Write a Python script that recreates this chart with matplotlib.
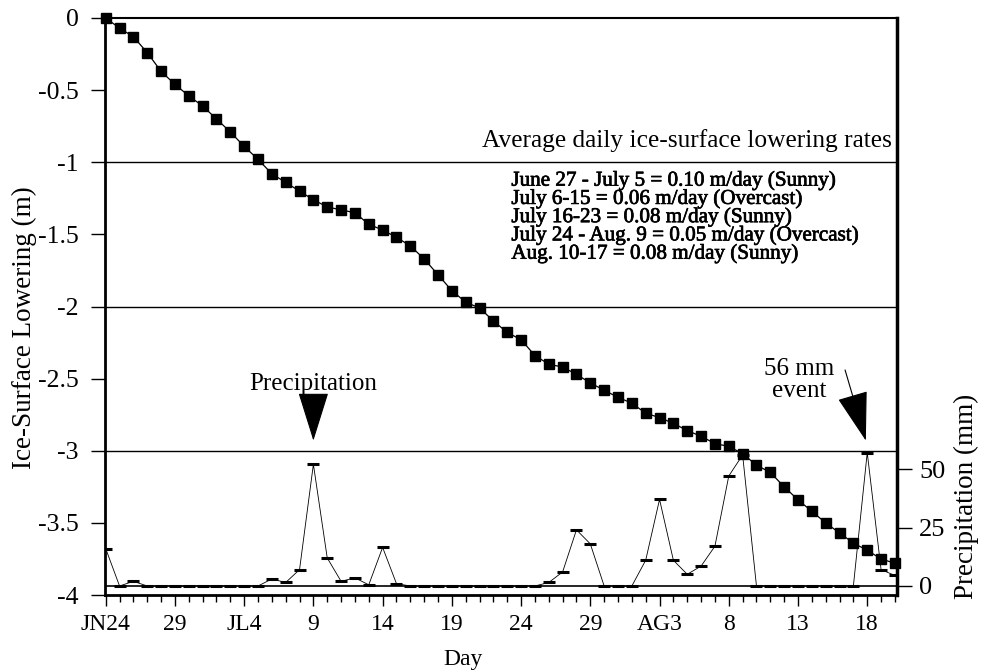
import matplotlib
matplotlib.use("Agg")
import matplotlib.pyplot as plt
import matplotlib.patheffects as pe
import numpy as np

plt.rcParams['font.family'] = ['Liberation Serif', 'DejaVu Serif']

# Day index 0 = June 24
days = list(range(58))
ice_lowering = [0.00, -0.07, -0.13, -0.24, -0.37, -0.46, -0.54, -0.61, -0.70, -0.79,
                -0.89, -0.98, -1.08, -1.14, -1.20, -1.26, -1.31, -1.33, -1.35, -1.43,
                -1.47, -1.52, -1.58, -1.67, -1.78, -1.89, -1.97, -2.01, -2.10, -2.18,
                -2.23, -2.34, -2.40, -2.42, -2.47, -2.53, -2.58, -2.63, -2.67, -2.74,
                -2.77, -2.81, -2.86, -2.90, -2.95, -2.97, -3.02, -3.10, -3.15, -3.25,
                -3.34, -3.42, -3.50, -3.57, -3.64, -3.69, -3.75, -3.78]
precip_mm = [16, 0, 2, 0, 0, 0, 0, 0, 0, 0,
             0, 0, 3, 1.5, 7, 52, 12, 2, 3.5, 0.5,
             16.5, 1, 0, 0, 0, 0, 0, 0, 0, 0,
             0, 0, 1.5, 6, 24, 18, 0, 0, 0, 11,
             37, 11, 5, 8.5, 17, 47, 56, 0, 0, 0,
             0, 0, 0, 0, 0, 57, 7, 4.5]

xtick_pos = [0, 5, 10, 15, 20, 25, 30, 35, 40, 45, 50, 55]
xtick_labels = ['JN24', '29', 'JL4', '9', '14', '19', '24', '29', 'AG3', '8', '13', '18']
ytick_left = [0, -0.5, -1, -1.5, -2, -2.5, -3, -3.5, -4]
ytick_right = [0, 25, 50]

rate_lines = ["June 27 - July 5 = 0.10 m/day (Sunny)",
              "July 6-15 = 0.06 m/day (Overcast)",
              "July 16-23 = 0.08 m/day (Sunny)",
              "July 24 - Aug. 9 = 0.05 m/day (Overcast)",
              "Aug. 10-17 = 0.08 m/day (Sunny)"]

W, H = 982, 671
fig = plt.figure(figsize=(W/100, H/100), dpi=100)
L, R, T, B = 105, 897, 18, 595
ax = fig.add_axes([L/W, 1 - B/H, (R-L)/W, (B-T)/H])
ax2 = ax.twinx()

ax.set_xlim(-0.05, 57.15)
ax.set_ylim(-4, 0)
ax2.set_ylim(-(B-586)/2.34, (586-T)/2.34)

# Reference lines
for yv in [-1, -2, -3]:
    ax.axhline(yv, color='black', lw=1.0, zorder=1)
ax2.axhline(0, color='black', lw=1.2, zorder=1)

# Precipitation series
ax2.plot(days, precip_mm, color='black', lw=0.6, marker='_', ms=8, mew=2.2, zorder=2)
# Ice lowering series
ax.plot(days, ice_lowering, color='black', lw=0.9, marker='s', ms=7, mfc='black',
        mec='black', zorder=3, clip_on=False)
ax.set_zorder(ax2.get_zorder() + 1)
ax.patch.set_visible(False)

# Ticks
ax.set_xticks(xtick_pos)
ax.set_xticklabels(xtick_labels)
ax.set_xticks(days, minor=True)
ax.set_yticks(ytick_left)
ax.set_yticklabels(['0', '-0.5', '-1', '-1.5', '-2', '-2.5', '-3', '-3.5', '-4'])
ax.tick_params(axis='x', which='major', direction='out', length=8, width=1, labelsize=17, pad=6)
ax.tick_params(axis='x', which='minor', direction='out', length=5, width=1)
ax.tick_params(axis='y', which='major', direction='out', length=10, width=1, labelsize=18.5, pad=9)
ax2.set_yticks(ytick_right)
ax2.tick_params(axis='y', direction='out', length=11, width=1, labelsize=19, pad=5)

for s in ['left', 'bottom']:
    ax.spines[s].set_linewidth(2)
ax.spines['top'].set_linewidth(1.5)
ax.spines['right'].set_linewidth(2.5)
for s in ax2.spines.values():
    s.set_visible(False)

# Axis labels
fig.text(463/W, 1 - 659/H, 'Day', ha='center', va='center', fontsize=17)
fig.text(24/W, 1 - 328/H, 'Ice-Surface Lowering (m)', ha='center', va='center',
         rotation=90, fontsize=19.5)
fig.text(966/W, 1 - 496/H, 'Precipitation (mm)', ha='center', va='center',
         rotation=90, fontsize=19.5)

# Rates text
ax.text(56.8, -0.93, 'Average daily ice-surface lowering rates', ha='right', va='bottom',
        fontsize=18.3)
ax.text(29.3, -1.06, '\n'.join(rate_lines), ha='left', va='top', fontsize=15.2,
        linespacing=0.9,
        path_effects=[pe.withStroke(linewidth=0.5, foreground='black')])

# Annotations
ax.annotate('Precipitation', xy=(15, -2.93), xytext=(15, -2.54), ha='center', va='center',
            fontsize=18,
            arrowprops=dict(arrowstyle='-|>,head_length=1.6,head_width=0.5', color='black',
                            lw=0.8, mutation_scale=20, shrinkA=10, shrinkB=0))
ax.text(50.1, -2.51, '56 mm\nevent', ha='center', va='center', fontsize=18, linespacing=0.95)
ax.annotate('', xy=(54.9, -2.93), xytext=(53.4, -2.44),
            arrowprops=dict(arrowstyle='-|>,head_length=1.6,head_width=0.5', color='black',
                            lw=0.8, mutation_scale=20, shrinkA=0, shrinkB=0))

fig.savefig('out.png', dpi=100)
